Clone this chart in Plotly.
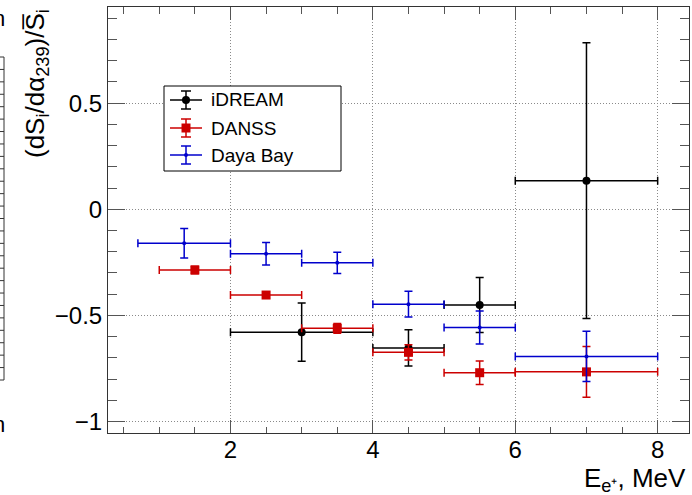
import plotly.graph_objects as go

# ---- data: positron energy bins (MeV) and relative derivative values ----
series_names = ["iDREAM", "DANSS", "Daya Bay"]
series_colors = ["#000000", "#cc0000", "#0000cc"]

idream_e = [3.0, 4.5, 5.5, 7.0]
idream_de = [1.0, 0.5, 0.5, 1.0]
idream_val = [-0.579, -0.653, -0.451, 0.135]
idream_err = [0.137, 0.085, 0.130, 0.650]

danss_e = [1.5, 2.5, 3.5, 4.5, 5.5, 7.0]
danss_de = [0.5, 0.5, 0.5, 0.5, 0.5, 1.0]
danss_val = [-0.286, -0.404, -0.561, -0.674, -0.770, -0.766]
danss_err = [0.018, 0.015, 0.023, 0.036, 0.055, 0.120]

dayabay_e = [1.35, 2.5, 3.5, 4.5, 5.5, 7.0]
dayabay_de = [0.65, 0.5, 0.5, 0.5, 0.5, 1.0]
dayabay_val = [-0.160, -0.209, -0.252, -0.447, -0.557, -0.693]
dayabay_err = [0.069, 0.053, 0.050, 0.061, 0.078, 0.118]

x_tickvals = [2, 4, 6, 8]
x_ticktext = ["2", "4", "6", "8"]
y_tickvals = [-1, -0.5, 0, 0.5]
y_ticktext = ["\u22121", "\u22120.5", "0", "0.5"]

X_RANGE = [0.28, 8.44]
Y_RANGE = [-1.054, 0.953]

# ---- page geometry ----
W, H = 692, 495
ML, MR, MT, MB = 108, 3, 7, 62
PW, PH = W - ML - MR, H - MT - MB
FONT = "Liberation Sans, Arial, sans-serif"
TICK_COLOR = "#555555"


def px(x):
    return (x - ML) / PW


def py(y):
    return 1 - (y - MT) / PH


series = [
    (idream_e, idream_de, idream_val, idream_err, "circle", 8),
    (danss_e, danss_de, danss_val, danss_err, "square", 9),
    (dayabay_e, dayabay_de, dayabay_val, dayabay_err, "circle", 4),
]

fig = go.Figure()
for name, color, (e, de, v, err, sym, size) in zip(series_names, series_colors, series):
    fig.add_trace(go.Scatter(
        x=e, y=v, name=name, mode="markers", showlegend=False,
        marker=dict(symbol=sym, size=size, color=color, line=dict(width=0)),
        error_x=dict(type="data", array=de, visible=True, color=color, thickness=1.5, width=4),
        error_y=dict(type="data", array=err, visible=True, color=color, thickness=1.5, width=4),
    ))

# empty trace that carries the mirrored (top / right) tick axes
fig.add_trace(go.Scatter(x=[], y=[], xaxis="x2", yaxis="y2", showlegend=False,
                         hoverinfo="skip"))

shapes = []
annotations = []

# legend box with error-bar style symbols
shapes.append(dict(type="rect", xref="paper", yref="paper",
                   x0=px(164), x1=px(341), y0=py(171), y1=py(86),
                   line=dict(color="#000000", width=1), fillcolor="white", layer="above"))
legend_rows = [100, 128, 155]
for (name, color, ser, row) in zip(series_names, series_colors, series, legend_rows):
    cx = 186
    sym, size = ser[4], ser[5]
    ln = dict(color=color, width=1.5)
    shapes.append(dict(type="line", xref="paper", yref="paper",
                       x0=px(cx - 16), x1=px(cx + 16), y0=py(row), y1=py(row), line=ln))
    shapes.append(dict(type="line", xref="paper", yref="paper",
                       x0=px(cx), x1=px(cx), y0=py(row - 9), y1=py(row + 9), line=ln))
    for yy in (row - 9, row + 9):
        shapes.append(dict(type="line", xref="paper", yref="paper",
                           x0=px(cx - 5), x1=px(cx + 5), y0=py(yy), y1=py(yy), line=ln))
    r = size / 2
    shapes.append(dict(type="circle" if sym == "circle" else "rect",
                       xref="paper", yref="paper",
                       x0=px(cx - r), x1=px(cx + r), y0=py(row + r), y1=py(row - r),
                       line=dict(width=0), fillcolor=color))
    annotations.append(dict(text=name, xref="paper", yref="paper", x=px(209), y=py(row),
                            xanchor="left", yanchor="middle", showarrow=False,
                            font=dict(family=FONT, size=19, color="#000000")))

# axis titles (ROOT style: aligned to the far end of each axis)
annotations.append(dict(
    text="(dS<sub>i</sub>/d\u03b1<sub>239</sub>)/S\u0305<sub>i</sub>",
    xref="paper", yref="paper", x=px(36), y=py(84), textangle=-90,
    xanchor="center", yanchor="middle", showarrow=False,
    font=dict(family=FONT, size=26, color="#000000")))
annotations.append(dict(
    text="E<sub>e\u207a</sub>, MeV",
    xref="paper", yref="paper", x=px(688), y=py(498),
    xanchor="right", yanchor="bottom", showarrow=False,
    font=dict(family=FONT, size=26, color="#000000")))

# neighbouring panel edge visible at the far left
shapes.append(dict(type="line", xref="paper", yref="paper",
                   x0=px(4), x1=px(4), y0=py(57), y1=py(380),
                   line=dict(color="#333333", width=1)))
n_ticks = 26
for k in range(n_ticks + 1):
    yy = 57 + k * (380 - 57) / n_ticks
    shapes.append(dict(type="line", xref="paper", yref="paper",
                       x0=px(0), x1=px(4), y0=py(yy), y1=py(yy),
                       line=dict(color="#333333", width=1)))
for yy in (18, 424):
    annotations.append(dict(text="n", xref="paper", yref="paper", x=px(7), y=py(yy),
                            xanchor="right", yanchor="middle", showarrow=False,
                            font=dict(family=FONT, size=22, color="#000000")))

grid_common = dict(showgrid=True, gridcolor="#8a8a8a", gridwidth=1, griddash="1px,2px")
tick_common = dict(ticks="inside", tickcolor=TICK_COLOR, tickwidth=1, zeroline=False)

x_minor = dict(dtick=0.5, tick0=0, ticks="inside", ticklen=6.5, tickcolor=TICK_COLOR,
               showgrid=False)
y_minor = dict(dtick=0.1, tick0=0, ticks="inside", ticklen=9, tickcolor=TICK_COLOR,
               showgrid=False)

fig.update_layout(
    width=W, height=H,
    margin=dict(l=ML, r=MR, t=MT, b=MB, pad=0),
    paper_bgcolor="white", plot_bgcolor="white",
    showlegend=False,
    shapes=shapes, annotations=annotations,
    xaxis=dict(range=X_RANGE, tickvals=x_tickvals, ticktext=x_ticktext, ticklen=13,
               showline=True, linecolor="#333333", linewidth=1, mirror=True,
               ticklabelstandoff=-5,
               tickfont=dict(family=FONT, size=24, color="#000000"),
               minor=x_minor, **grid_common, **tick_common),
    yaxis=dict(range=Y_RANGE, tickvals=y_tickvals, ticktext=y_ticktext, ticklen=17,
               showline=True, linecolor="#333333", linewidth=1, mirror=True,
               tickfont=dict(family=FONT, size=24, color="#000000"),
               minor=y_minor, **grid_common, **tick_common),
    xaxis2=dict(range=X_RANGE, overlaying="x", side="top", anchor="y2",
                tickvals=x_tickvals, ticklen=13, showticklabels=False,
                showgrid=False, showline=False, minor=x_minor, **tick_common),
    yaxis2=dict(range=Y_RANGE, overlaying="y", side="right", anchor="x2",
                tickvals=y_tickvals, ticklen=17, showticklabels=False,
                showgrid=False, showline=False, minor=y_minor, **tick_common),
)

fig.write_html("out.html")
